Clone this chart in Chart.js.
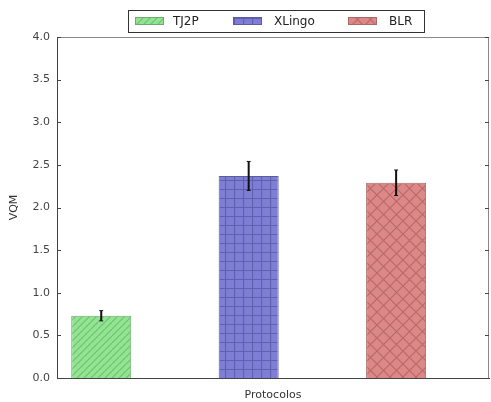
<!DOCTYPE html>
<html>
<head>
<meta charset="utf-8">
<script src="https://cdn.jsdelivr.net/npm/chart.js@4/dist/chart.umd.min.js"></script>
<style>
html,body{margin:0;padding:0;background:#fff;}
#wrap{width:491px;height:402px;position:relative;}
</style>
</head>
<body>
<div id="wrap"><canvas id="c" width="491" height="402"></canvas></div>
<script>
const categories = ['TJ2P', 'XLingo', 'BLR'];
const positions = [0, 1, 2];
const vqm = [0.73, 2.37, 2.29];
const errors = [0.06, 0.17, 0.15];
const yTickStep = 0.5;

function makePattern(bg, line, kind) {
  const s = kind === 'diag' ? 7 : (kind === 'grid' ? 9 : 13);
  const c = document.createElement('canvas');
  c.width = s; c.height = s;
  const g = c.getContext('2d');
  g.fillStyle = bg; g.fillRect(0, 0, s, s);
  g.strokeStyle = line; g.lineWidth = 1.2;
  g.beginPath();
  if (kind === 'diag') {
    for (let k = -1; k <= 1; k++) {
      g.moveTo(k * s, s); g.lineTo(k * s + s, 0);
    }
  } else if (kind === 'grid') {
    g.moveTo(0.5, 0); g.lineTo(0.5, s);
    g.moveTo(0, 0.5); g.lineTo(s, 0.5);
  } else {
    g.moveTo(0, 0); g.lineTo(s, s);
    g.moveTo(0, s); g.lineTo(s, 0);
  }
  g.stroke();
  return g.createPattern(c, 'repeat');
}

const fills = [
  makePattern('rgb(146,228,146)', 'rgb(112,192,112)', 'diag'),
  makePattern('rgb(126,126,212)', 'rgb(96,96,176)', 'grid'),
  makePattern('rgb(220,136,136)', 'rgb(186,104,104)', 'cross')
];
const edges = ['rgb(110,170,110)', 'rgb(92,92,158)', 'rgb(170,105,105)'];

const datasets = categories.map((name, i) => ({
  label: name,
  data: [{x: positions[i], y: vqm[i]}],
  err: [errors[i]],
  backgroundColor: fills[i],
  borderColor: edges[i],
  borderWidth: 1,
  grouped: false,
  barPercentage: 0.407,
  categoryPercentage: 1
}));

const FONT = 'DejaVu Sans';

const decor = {
  id: 'decor',
  afterDatasetsDraw(chart) {
    const ctx = chart.ctx;
    const xs = chart.scales.x, ys = chart.scales.y;
    ctx.save();
    ctx.strokeStyle = '#111';
    chart.data.datasets.forEach(ds => {
      ds.data.forEach((p, j) => {
        const x = xs.getPixelForValue(p.x);
        const yt = ys.getPixelForValue(p.y + ds.err[j]);
        const yb = ys.getPixelForValue(p.y - ds.err[j]);
        ctx.lineWidth = 2;
        ctx.beginPath();
        ctx.moveTo(x, yt); ctx.lineTo(x, yb);
        ctx.stroke();
        ctx.lineWidth = 1;
        ctx.beginPath();
        ctx.moveTo(x - 2, yt); ctx.lineTo(x + 2, yt);
        ctx.moveTo(x - 2, yb); ctx.lineTo(x + 2, yb);
        ctx.stroke();
      });
    });
    ctx.restore();
  },
  afterDraw(chart) {
    const ctx = chart.ctx;
    const a = chart.chartArea;
    const ys = chart.scales.y;
    ctx.save();
    ctx.strokeStyle = '#888';
    ctx.lineWidth = 1;
    ctx.beginPath();
    ctx.moveTo(a.left, a.top + 0.5); ctx.lineTo(a.right, a.top + 0.5);
    ctx.moveTo(a.right - 0.5, a.top); ctx.lineTo(a.right - 0.5, a.bottom);
    ctx.stroke();
    ctx.strokeStyle = '#444';
    ys.ticks.forEach(t => {
      const y = Math.round(ys.getPixelForValue(t.value)) + 0.5;
      ctx.beginPath();
      ctx.moveTo(a.left, y); ctx.lineTo(a.left + 4, y);
      ctx.moveTo(a.right, y); ctx.lineTo(a.right - 4, y);
      ctx.stroke();
    });
    ctx.fillStyle = '#fff';
    ctx.fillRect(128, 10, 296, 22);
    ctx.strokeStyle = '#333';
    ctx.lineWidth = 1;
    ctx.strokeRect(128.5, 10.5, 296, 22);
    const sw = [135, 233, 348];
    const tx = [173, 274, 389];
    ctx.font = '12px "' + FONT + '"';
    ctx.textBaseline = 'middle';
    ctx.textAlign = 'left';
    chart.data.datasets.forEach((ds, i) => {
      ctx.fillStyle = ds.backgroundColor;
      ctx.fillRect(sw[i], 17, 29, 8);
      ctx.strokeStyle = ds.borderColor;
      ctx.strokeRect(sw[i] + 0.5, 17.5, 28, 7);
      ctx.fillStyle = '#222';
      ctx.fillText(ds.label, tx[i], 21.5);
    });
    ctx.restore();
  }
};

new Chart(document.getElementById('c'), {
  type: 'bar',
  data: { datasets },
  plugins: [decor],
  options: {
    responsive: false,
    animation: false,
    layout: { padding: { top: 37, right: 2, left: 0, bottom: 0 } },
    plugins: { legend: { display: false }, tooltip: { enabled: false } },
    scales: {
      x: {
        type: 'linear',
        min: -0.3,
        max: 2.63,
        offset: false,
        ticks: { display: false, stepSize: 1, includeBounds: false },
        grid: { display: false, drawTicks: false },
        border: { display: true, color: '#444', width: 1 },
        title: { display: true, text: 'Protocolos', color: '#333', font: { family: FONT, size: 11 }, padding: { top: 7, bottom: 0 } },
        afterFit(s) { s.height = 24; }
      },
      y: {
        min: 0,
        max: 4,
        ticks: { stepSize: yTickStep, color: '#444', padding: 7, font: { family: FONT, size: 11 },
          callback: v => Number(v).toFixed(1) },
        grid: { display: false, drawTicks: false },
        border: { display: true, color: '#444', width: 1 },
        title: { display: true, text: 'VQM', color: '#333', font: { family: FONT, size: 11 }, padding: { top: 8, bottom: 0 } },
        afterFit(s) { s.width = 57; }
      }
    }
  }
});
</script>
</body>
</html>
